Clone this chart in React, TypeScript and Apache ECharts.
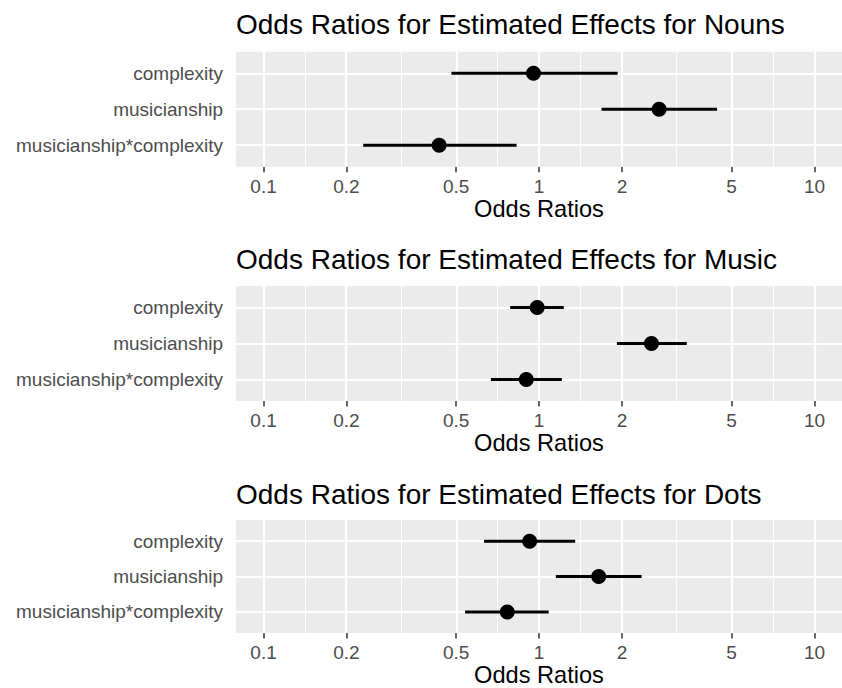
import React, { useEffect, useRef } from "react";
import * as echarts from "echarts";

const categories = ["complexity", "musicianship", "musicianship*complexity"];
const panelTitles = [
  "Odds Ratios for Estimated Effects for Nouns",
  "Odds Ratios for Estimated Effects for Music",
  "Odds Ratios for Estimated Effects for Dots",
];
const axisTitle = "Odds Ratios";

const tickBreaks = [0.1, 0.2, 0.5, 1, 2, 5, 10];
const tickLabels = ["0.1", "0.2", "0.5", "1", "2", "5", "10"];

const nounsEst = [0.955, 2.73, 0.434];
const nounsLow = [0.481, 1.687, 0.23];
const nounsHigh = [1.93, 4.43, 0.829];

const musicEst = [0.985, 2.56, 0.899];
const musicLow = [0.786, 1.918, 0.669];
const musicHigh = [1.23, 3.44, 1.21];

const dotsEst = [0.925, 1.647, 0.767];
const dotsLow = [0.632, 1.151, 0.539];
const dotsHigh = [1.353, 2.357, 1.084];

const panels = [
  { est: nounsEst, low: nounsLow, high: nounsHigh },
  { est: musicEst, low: musicLow, high: musicHigh },
  { est: dotsEst, low: dotsLow, high: dotsHigh },
];

const gridTops = [51.7, 286, 520];
const titleTops = [10, 245, 480];
const FONT = "'Liberation Sans', Arial, Helvetica, sans-serif";

export default function App() {
  const ref = useRef<HTMLDivElement>(null);
  useEffect(() => {
    document.body.style.margin = "0";
    if (!ref.current) return;
    const chart = echarts.init(ref.current, undefined, { renderer: "svg" });
    const logBreaks = tickBreaks.map((b) => Math.log10(b));
    const minorBreaks: number[] = [];
    for (let i = 0; i < logBreaks.length - 1; i++) {
      minorBreaks.push((logBreaks[i] + logBreaks[i + 1]) / 2);
    }
    const catPos = categories.map((_, i) => i + 1);

    const grids: any[] = [];
    const xAxes: any[] = [];
    const yAxes: any[] = [];
    const series: any[] = [];
    const titles: any[] = [];

    panels.forEach((p, k) => {
      titles.push({
        text: panelTitles[k],
        left: 236,
        top: titleTops[k],
        padding: 0,
        textStyle: { fontFamily: FONT, fontSize: 28, fontWeight: "normal", color: "#000" },
      });
      grids.push({
        left: 236,
        top: gridTops[k],
        width: 611,
        height: 115,
        show: true,
        backgroundColor: "#EBEBEB",
        borderWidth: 0,
        containLabel: false,
      });
      xAxes.push({
        type: "value",
        gridIndex: k,
        min: -1.1,
        max: 1.1,
        splitLine: { show: false },
        axisLine: { show: false },
        axisTick: {
          show: true,
          customValues: logBreaks,
          length: 5.5,
          lineStyle: { color: "#333333", width: 1.5 },
        },
        axisLabel: {
          customValues: logBreaks,
          margin: 10,
          fontSize: 19,
          fontFamily: FONT,
          color: "#4D4D4D",
          formatter: (v: number) => {
            const idx = logBreaks.findIndex((b) => Math.abs(b - v) < 1e-6);
            return idx >= 0 ? tickLabels[idx] : "";
          },
        },
        name: axisTitle,
        nameLocation: "middle",
        nameGap: 27,
        nameTextStyle: { fontFamily: FONT, fontSize: 23.6, color: "#000" },
      });
      yAxes.push({
        type: "value",
        gridIndex: k,
        inverse: true,
        min: 0.4,
        max: 3.6,
        splitLine: { show: false },
        axisLine: { show: false },
        axisTick: {
          show: true,
          customValues: catPos,
          length: 5.5,
          lineStyle: { color: "#333333", width: 1.5 },
        },
        axisLabel: {
          customValues: catPos,
          margin: 13,
          fontSize: 19,
          fontFamily: FONT,
          color: "#4D4D4D",
          formatter: (v: number) => categories[Math.round(v) - 1] ?? "",
        },
      });
      const markData: any[] = [];
      minorBreaks.forEach((m) => markData.push({ xAxis: m, lineStyle: { width: 1.1 } }));
      logBreaks.forEach((b) => markData.push({ xAxis: b, lineStyle: { width: 2.2 } }));
      catPos.forEach((c) => markData.push({ yAxis: c, lineStyle: { width: 2.2 } }));

      series.push({
        type: "custom",
        xAxisIndex: k,
        yAxisIndex: k,
        z: 3,
        silent: true,
        encode: { x: [0, 1], y: 2 },
        data: p.est.map((_, i) => [Math.log10(p.low[i]), Math.log10(p.high[i]), i + 1]),
        renderItem: (params: any, api: any) => {
          const a = api.coord([api.value(0), api.value(2)]);
          const b = api.coord([api.value(1), api.value(2)]);
          return {
            type: "line",
            shape: { x1: a[0], y1: a[1], x2: b[0], y2: b[1] },
            style: { stroke: "#000", lineWidth: 3 },
          };
        },
        markLine: {
          silent: true,
          z: 1,
          symbol: ["none", "none"],
          label: { show: false },
          lineStyle: { color: "#FFFFFF", type: "solid", opacity: 1 },
          emphasis: { disabled: true },
          data: markData,
        },
      });
      series.push({
        type: "scatter",
        xAxisIndex: k,
        yAxisIndex: k,
        z: 4,
        silent: true,
        symbol: "circle",
        symbolSize: 15,
        itemStyle: { color: "#000", opacity: 1 },
        data: p.est.map((e, i) => [Math.log10(e), i + 1]),
      });
    });

    chart.setOption({
      animation: false,
      backgroundColor: "#FFFFFF",
      title: titles,
      grid: grids,
      xAxis: xAxes,
      yAxis: yAxes,
      series,
    });
    return () => chart.dispose();
  }, []);
  return <div ref={ref} style={{ width: 842, height: 688 }} />;
}
